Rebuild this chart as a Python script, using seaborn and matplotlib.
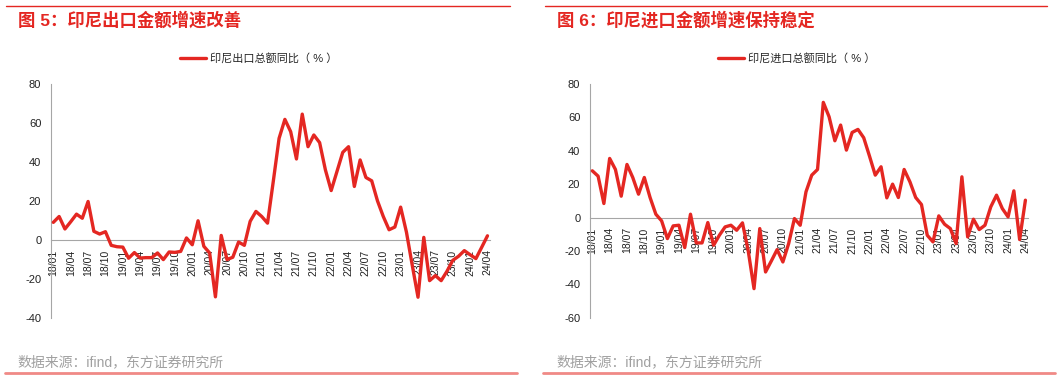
import numpy as np
import pandas as pd
import matplotlib
matplotlib.use("Agg")
import matplotlib.pyplot as plt
from matplotlib.ticker import MultipleLocator
import seaborn as sns

# 月份 18/01 - 24/04
months = [d.strftime("%y/%m") for d in pd.date_range("2018-01-01", "2024-04-01", freq="MS")]

export_yoy = [8.9, 11.9, 5.5, 9.2, 13.1, 11.0, 19.6, 4.3, 2.9, 4.1,
              -2.9, -3.6, -3.8, -9.5, -6.6, -9.4, -9.2, -9.2, -6.8, -10.2,
              -6.3, -6.5, -6.0, 0.9, -2.6, 9.7, -3.4, -6.8, -29.3, 2.2,
              -10.2, -9.0, -1.2, -2.9, 9.4, 14.5, 11.9, 8.5, 30.0, 52.0,
              61.7, 55.4, 41.4, 64.4, 47.7, 53.7, 49.8, 35.8, 25.2, 35.0,
              44.8, 47.7, 27.3, 40.9, 31.9, 30.2, 19.9, 11.9, 5.1, 6.5,
              16.7, 3.9, -13.0, -29.5, 1.2, -21.0, -18.4, -21.0, -16.2, -10.6,
              -8.5, -5.6, -7.7, -9.7, -3.9, 2.0]

import_yoy = [28.0, 24.8, 8.4, 35.4, 28.8, 12.8, 31.8, 24.0, 14.0, 24.0,
              12.0, 2.0, -2.0, -12.6, -5.0, -4.6, -18.0, 2.0, -15.2, -15.2,
              -3.0, -16.6, -10.6, -5.6, -4.6, -7.6, -3.2, -20.0, -42.6, -6.6,
              -32.6, -26.0, -19.2, -26.6, -15.6, -0.6, -4.6, 15.4, 25.4, 28.8,
              69.0, 60.4, 46.0, 55.4, 40.4, 51.0, 52.8, 47.8, 36.8, 25.4,
              30.4, 11.8, 20.0, 12.0, 28.8, 21.4, 12.0, 7.8, -10.6, -14.6,
              1.0, -4.0, -6.6, -15.6, 24.4, -11.6, -1.0, -7.2, -4.6, 6.4,
              13.4, 5.4, 0.4, 16.0, -13.2, 10.4]

titles = ["图 5：印尼出口金额增速改善", "图 6：印尼进口金额增速保持稳定"]
legend_names = ["印尼出口总额同比（ % ）", "印尼进口总额同比（ % ）"]
source = "数据来源：ifind，东方证券研究所"

sns.set_style("white")
plt.rcParams["font.family"] = ["Liberation Sans", "Noto Sans CJK SC"]
plt.rcParams["axes.unicode_minus"] = False

red = "#E42722"
grey = "#A6A6A6"

fig = plt.figure(figsize=(10.61, 3.85), dpi=100)

df = pd.DataFrame({"month": months, "export": export_yoy, "import": import_yoy})

panels = [
    dict(col="export", rect=[0.0481, 0.1748, 0.4138, 0.6078], ylim=(-40, 80),
         title_x=18, line=(6, 510), bottom=(5, 517), leg_x=258.5, src_x=17),
    dict(col="import", rect=[0.5561, 0.1748, 0.4128, 0.6070], ylim=(-60, 80),
         title_x=557, line=(545, 1047), bottom=(543, 1055), leg_x=796.5, src_x=556),
]

W, H = 1061, 385
for p, title, name in zip(panels, titles, legend_names):
    ax = fig.add_axes(p["rect"])
    sns.lineplot(data=df, x="month", y=p["col"], ax=ax, color=red, lw=2.4,
                 label=name, sort=False, zorder=3)
    ax.set_xlim(-0.4, 75.45)
    ax.set_ylim(*p["ylim"])
    ax.set_yticks(np.arange(p["ylim"][0], 81, 20))
    ax.set_xticks(range(0, len(months), 3))
    ax.xaxis.set_minor_locator(MultipleLocator(1))
    ax.set_xlabel("")
    ax.set_ylabel("")

    for s in ["top", "right"]:
        ax.spines[s].set_visible(False)
    ax.spines["bottom"].set_position(("data", 0))
    ax.spines["bottom"].set_color(grey)
    ax.spines["left"].set_color(grey)
    ax.spines["bottom"].set_zorder(1)

    ax.tick_params(axis="y", direction="in", length=3, color=grey,
                   labelsize=8, pad=7, labelcolor="#222222")
    ax.tick_params(axis="x", which="both", direction="inout", length=4,
                   color=grey, labelsize=7.5, pad=5, labelcolor="#222222",
                   labelrotation=90)

    ax.legend(loc="center", bbox_to_anchor=(p["leg_x"] / W, 1 - 58 / H),
              bbox_transform=fig.transFigure, frameon=False, fontsize=8,
              handlelength=2.4, handletextpad=0.3, borderaxespad=0)

    fig.text(p["title_x"] / W, 1 - 20 / H, title, color=red, fontsize=12.5,
             fontweight="bold", va="center", ha="left")
    fig.add_artist(plt.Line2D([p["line"][0] / W, p["line"][1] / W],
                              [1 - 6 / H, 1 - 6 / H], color=red, lw=1.0))
    fig.add_artist(plt.Line2D([p["bottom"][0] / W, p["bottom"][1] / W],
                              [1 - 372.5 / H, 1 - 372.5 / H],
                              color="#F08A86", lw=2.0))
    fig.text(p["src_x"] / W, 1 - 362 / H, source, color="#A0A0A0",
             fontsize=10, va="center", ha="left")

fig.savefig("out.png", dpi=100)
